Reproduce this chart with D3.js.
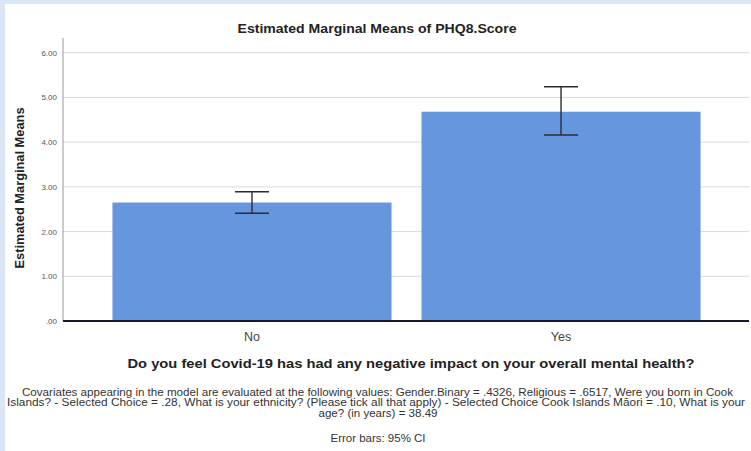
<!DOCTYPE html>
<html>
<head>
<meta charset="utf-8">
<script src="https://cdn.jsdelivr.net/npm/d3@7"></script>
<style>
  body { margin: 0; background: #dae5f5; }
  svg { display: block; }
</style>
</head>
<body>
<div id="chart"></div>
<script>
var categories = ["No", "Yes"];
var means = [2.65, 4.68];
var ciLow = [2.41, 4.16];
var ciHigh = [2.89, 5.24];
var yTicks = [0, 1, 2, 3, 4, 5, 6];
var footLines = [
    "Covariates appearing in the model are evaluated at the following values: Gender.Binary = .4326, Religious = .6517, Were you born in Cook",
    "Islands? - Selected Choice = .28, What is your ethnicity? (Please tick all that apply) - Selected Choice Cook Islands M\u0101ori = .10, What is your",
    "age? (in years) = 38.49",
    "Error bars: 95% CI"
];

var width = 751, height = 451;
var margin = {top: 38, left: 63, right: 1, bottom: 130};

var svg = d3.select('#chart')
    .append('svg')
    .attr('width', width)
    .attr('height', height);

// white panel
svg.append('rect')
    .attr('x', 5).attr('y', 4)
    .attr('width', width - 5).attr('height', height - 4)
    .attr('fill', 'white');

var x = d3.scaleBand()
    .domain(categories)
    .range([margin.left, width - margin.right])
    .paddingInner(0.097)
    .paddingOuter(0.16);

var y = d3.scaleLinear()
    .domain([0, 6])
    .range([321, 52.7]);

// gridlines
svg.selectAll('.grid')
    .data(yTicks.slice(1))
    .enter().append('line')
    .attr('x1', margin.left).attr('x2', width - 2)
    .attr('y1', function(d) { return y(d) })
    .attr('y2', function(d) { return y(d) })
    .attr('stroke', '#d9d9d9')
    .attr('stroke-width', 1);

// y axis line
svg.append('line')
    .attr('x1', margin.left).attr('x2', margin.left)
    .attr('y1', margin.top).attr('y2', y(0))
    .attr('stroke', '#999').attr('stroke-width', 1);

// tick labels
svg.selectAll('.ytick')
    .data(yTicks)
    .enter().append('text')
    .attr('x', 57)
    .attr('y', function(d) { return y(d) + 3 })
    .attr('text-anchor', 'end')
    .attr('font-family', 'Liberation Sans, Arial, sans-serif')
    .attr('font-size', '8px')
    .attr('fill', '#555')
    .text(function(d) { return d === 0 ? '.00' : d3.format('.2f')(d) });

// bars
var idx = d3.range(categories.length);
svg.selectAll('.bar')
    .data(idx)
    .enter().append('rect')
    .attr('x', function(i) { return x(categories[i]) })
    .attr('width', x.bandwidth())
    .attr('y', function(i) { return y(means[i]) })
    .attr('height', function(i) { return y(0) - y(means[i]) })
    .attr('fill', '#6696de');

// baseline
svg.append('line')
    .attr('x1', margin.left).attr('x2', width - 2)
    .attr('y1', y(0)).attr('y2', y(0))
    .attr('stroke', '#1a1a2a').attr('stroke-width', 2);

// error bars
var eb = svg.selectAll('.err')
    .data(idx)
    .enter().append('g')
    .attr('stroke', '#2b2b33')
    .attr('stroke-width', 1.4);
eb.append('line')
    .attr('x1', function(i) { return x(categories[i]) + x.bandwidth() / 2 })
    .attr('x2', function(i) { return x(categories[i]) + x.bandwidth() / 2 })
    .attr('y1', function(i) { return y(ciLow[i]) })
    .attr('y2', function(i) { return y(ciHigh[i]) });
[ciLow, ciHigh].forEach(function(arr) {
    eb.append('line')
        .attr('x1', function(i) { return x(categories[i]) + x.bandwidth() / 2 - 17 })
        .attr('x2', function(i) { return x(categories[i]) + x.bandwidth() / 2 + 17 })
        .attr('y1', function(i) { return y(arr[i]) })
        .attr('y2', function(i) { return y(arr[i]) });
});

// category labels
svg.selectAll('.xlab')
    .data(categories)
    .enter().append('text')
    .attr('x', function(d) { return x(d) + x.bandwidth() / 2 })
    .attr('y', 341)
    .attr('text-anchor', 'middle')
    .attr('font-family', 'Liberation Sans, Arial, sans-serif')
    .attr('font-size', '12.5px')
    .attr('fill', '#444')
    .text(function(d) { return d });

// title
svg.append('text')
    .attr('x', 377).attr('y', 33)
    .attr('text-anchor', 'middle')
    .attr('font-family', 'Liberation Sans, Arial, sans-serif')
    .attr('font-weight', 'bold')
    .attr('font-size', '13px')
    .attr('fill', '#222')
    .attr('textLength', 279).attr('lengthAdjust', 'spacingAndGlyphs')
    .text('Estimated Marginal Means of PHQ8.Score');

// y axis title
svg.append('text')
    .attr('transform', 'translate(24,188) rotate(-90)')
    .attr('text-anchor', 'middle')
    .attr('font-family', 'Liberation Sans, Arial, sans-serif')
    .attr('font-weight', 'bold')
    .attr('font-size', '12.5px')
    .attr('fill', '#222')
    .attr('textLength', 161).attr('lengthAdjust', 'spacingAndGlyphs')
    .text('Estimated Marginal Means');

// x axis title
svg.append('text')
    .attr('x', 411).attr('y', 368)
    .attr('text-anchor', 'middle')
    .attr('font-family', 'Liberation Sans, Arial, sans-serif')
    .attr('font-weight', 'bold')
    .attr('font-size', '13px')
    .attr('fill', '#222')
    .attr('textLength', 567).attr('lengthAdjust', 'spacingAndGlyphs')
    .text('Do you feel Covid-19 has had any negative impact on your overall mental health?');

// footnote (narrow font in the original, so each line is fitted to its width)
var footY = [395.5, 406, 416.5, 442];
var footX = [377.5, 376, 378, 378];
var footW = [711, 738, 119, 95];
svg.selectAll('.foot')
    .data(footLines)
    .enter().append('text')
    .attr('class', 'foot')
    .attr('x', function(d, i) { return footX[i] })
    .attr('y', function(d, i) { return footY[i] })
    .attr('text-anchor', 'middle')
    .attr('font-family', 'Liberation Sans, Arial, sans-serif')
    .attr('font-size', '10px')
    .attr('fill', '#333')
    .attr('textLength', function(d, i) { return footW[i] })
    .attr('lengthAdjust', 'spacingAndGlyphs')
    .text(function(d) { return d });
</script>
</body>
</html>
